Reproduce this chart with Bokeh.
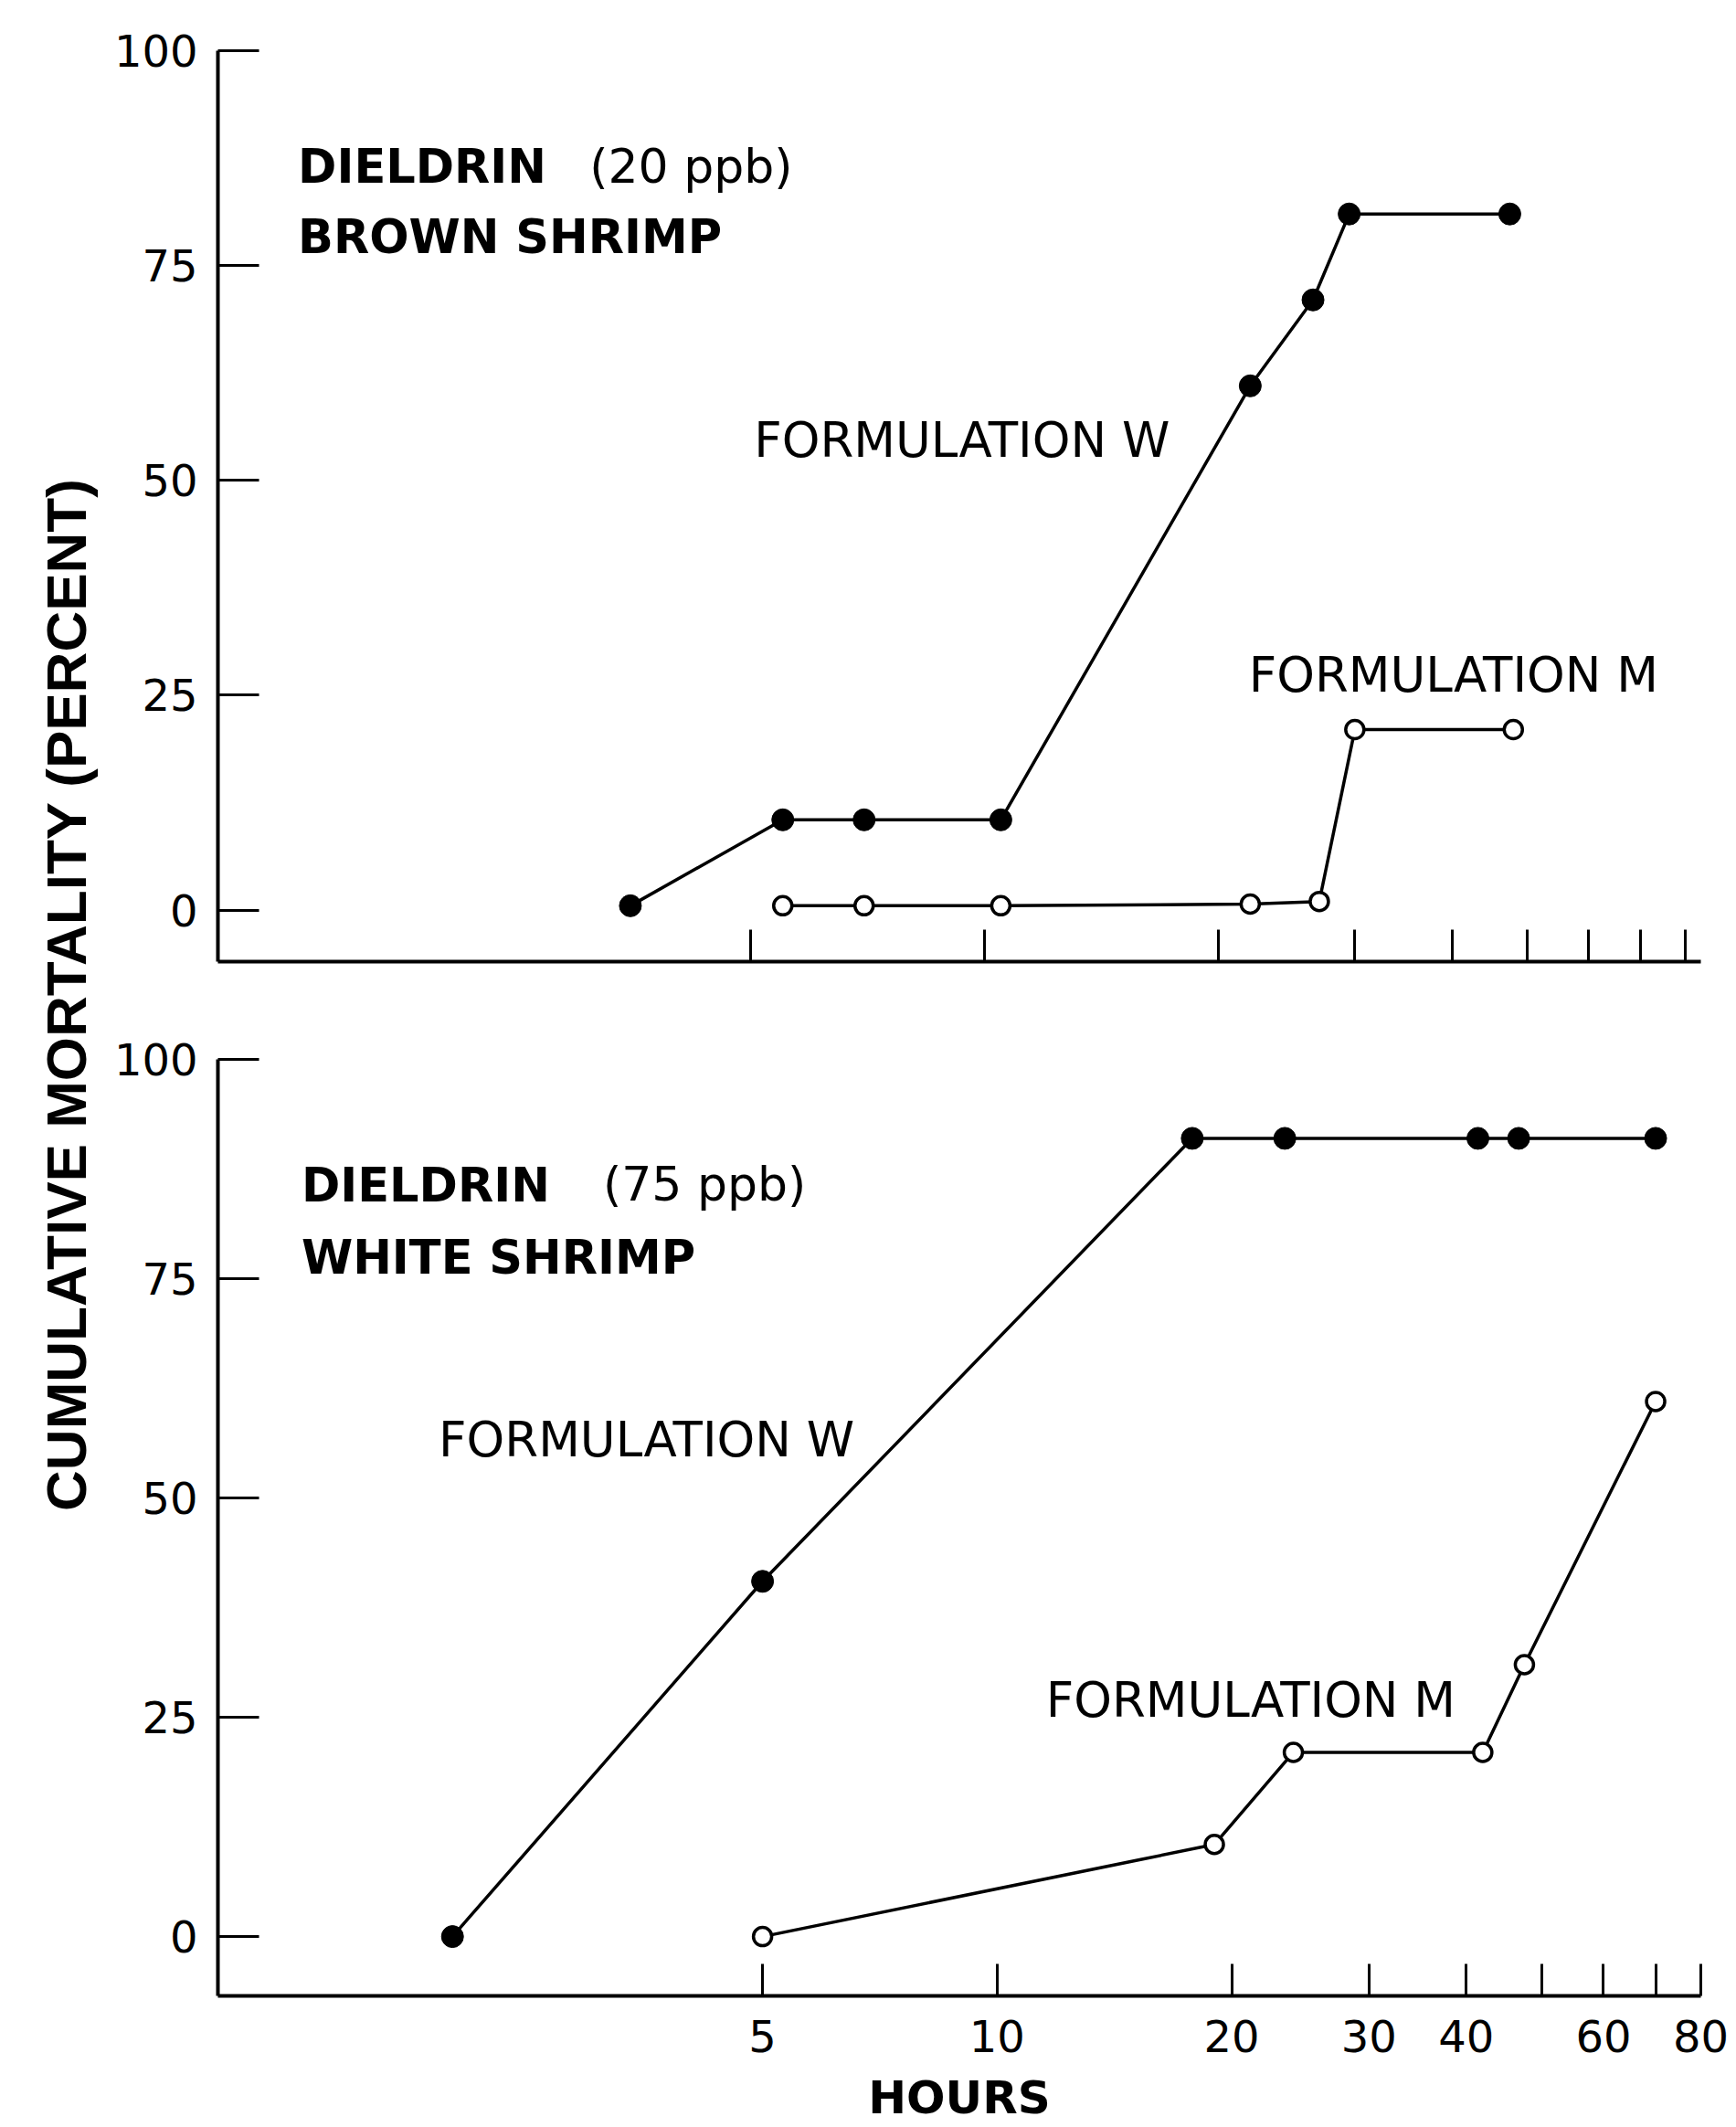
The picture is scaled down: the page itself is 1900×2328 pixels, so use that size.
import math
from bokeh.plotting import figure
from bokeh.models import Range1d, FixedTicker
from bokeh.layouts import row, column
from bokeh.embed import file_html
from bokeh.resources import INLINE
from bokeh.core.properties import value

# ---------------- data ----------------
# Upper panel: Dieldrin 20 ppb, brown shrimp
top_w_hours = [3.5, 5.5, 7.0, 10.5, 22.0, 26.5, 29.5, 47.5]
top_w_pct = [0.5, 10.5, 10.5, 10.5, 61.0, 71.0, 81.0, 81.0]
top_m_hours = [5.5, 7.0, 10.5, 22.0, 27.0, 30.0, 48.0]
top_m_pct = [0.5, 0.5, 0.5, 0.7, 1.0, 21.0, 21.0]

# Lower panel: Dieldrin 75 ppb, white shrimp
bot_w_hours = [2.0, 5.0, 17.8, 23.4, 41.4, 46.7, 70.0]
bot_w_pct = [0.0, 40.5, 91.0, 91.0, 91.0, 91.0, 91.0]
bot_m_hours = [5.0, 19.0, 24.0, 42.0, 47.5, 70.0]
bot_m_pct = [0.0, 10.5, 21.0, 21.0, 31.0, 61.0]

x_ticks = [5, 10, 20, 30, 40, 50, 60, 70, 80]
x_tick_labels = ["5", "10", "20", "30", "40", "", "60", "", "80"]
y_ticks = [0, 25, 50, 75, 100]
y_tick_labels = ["0", "25", "50", "75", "100"]

FONT = "DejaVu Sans"


def make_panel(width, height, x_start, x_end, y_start, bl, br, bt, bb, show_x_labels):
    p = figure(width=width, height=height, x_axis_type="log",
               x_range=Range1d(x_start, x_end), y_range=Range1d(y_start, 100),
               output_backend="svg", toolbar_location=None,
               min_border_left=bl, min_border_right=br,
               min_border_top=bt, min_border_bottom=bb,
               background_fill_color="white", border_fill_color="white")
    p.grid.visible = False
    p.outline_line_color = None

    xa = p.xaxis[0]
    xa.ticker = FixedTicker(ticks=x_ticks)
    xa.major_tick_in = 35
    xa.major_tick_out = 0
    xa.minor_tick_in = 0
    xa.minor_tick_out = 0
    xa.axis_line_width = 4
    xa.axis_line_color = "black"
    xa.major_tick_line_width = 3
    xa.major_tick_line_color = "black"
    if show_x_labels:
        xa.major_label_overrides = {t: l for t, l in zip(x_ticks, x_tick_labels)}
        xa.major_label_text_font = FONT
        xa.major_label_text_font_size = "48px"
        xa.major_label_text_color = "black"
        xa.major_label_standoff = 26
        xa.axis_label = "HOURS"
        xa.axis_label_text_font = FONT
        xa.axis_label_text_font_style = "bold"
        xa.axis_label_text_font_size = "50px"
        xa.axis_label_text_color = "black"
        xa.axis_label_standoff = 18
    else:
        xa.major_label_overrides = {t: "" for t in x_ticks}
        xa.major_label_text_font_size = "0px"

    ya = p.yaxis[0]
    ya.ticker = FixedTicker(ticks=y_ticks)
    ya.major_label_overrides = {t: l for t, l in zip(y_ticks, y_tick_labels)}
    ya.major_tick_in = 45
    ya.major_tick_out = 0
    ya.minor_tick_in = 0
    ya.minor_tick_out = 0
    ya.axis_line_width = 4
    ya.axis_line_color = "black"
    ya.major_tick_line_width = 3
    ya.major_tick_line_color = "black"
    ya.major_label_text_font = FONT
    ya.major_label_text_font_size = "48px"
    ya.major_label_text_color = "black"
    ya.major_label_standoff = 22
    return p


def draw_series(p, wx, wy, mx, my):
    p.line(wx, wy, line_color="black", line_width=3.5)
    p.scatter(wx, wy, marker="circle", size=24, fill_color="black",
              line_color="black", line_width=1)
    p.line(mx, my, line_color="black", line_width=3.5)
    p.scatter(mx, my, marker="circle", size=20, fill_color="white",
              line_color="black", line_width=3.5)


def add_text(p, x, y, txt, size, bold=False):
    p.text(x=[x], y=[y], text=[txt], text_font=value(FONT),
           text_font_size=value(size),
           text_font_style="bold" if bold else "normal",
           text_color="black", text_align="left", text_baseline="alphabetic")


# ---------------- upper panel ----------------
top = make_panel(width=1782, height=1097, x_start=1.03, x_end=83.7, y_start=-6.0,
                 bl=120, br=39, bt=55, bb=45, show_x_labels=False)
draw_series(top, top_w_hours, top_w_pct, top_m_hours, top_m_pct)
add_text(top, 1.306, 86.5, "DIELDRIN", "51px", bold=True)
add_text(top, 3.10, 86.5, "(20 ppb)", "52px")
add_text(top, 1.306, 78.3, "BROWN SHRIMP", "51px", bold=True)
add_text(top, 5.05, 54.7, "FORMULATION W", "53px")
add_text(top, 21.9, 27.4, "FORMULATION M", "53px")

# ---------------- lower panel ----------------
bot = make_panel(width=1782, height=1231, x_start=1.0, x_end=80.0, y_start=-6.76,
                 bl=120, br=39, bt=62, bb=144, show_x_labels=True)
draw_series(bot, bot_w_hours, bot_w_pct, bot_m_hours, bot_m_pct)
add_text(bot, 1.28, 85.6, "DIELDRIN", "51px", bold=True)
add_text(bot, 3.12, 85.8, "(75 ppb)", "52px")
add_text(bot, 1.28, 77.4, "WHITE SHRIMP", "51px", bold=True)
add_text(bot, 1.92, 56.7, "FORMULATION W", "53px")
add_text(bot, 11.55, 27.0, "FORMULATION M", "53px")

# ---------------- shared y-axis title ----------------
lab = figure(width=118, height=2328, x_range=Range1d(0, 118), y_range=Range1d(0, 2328),
             output_backend="svg", toolbar_location=None,
             x_axis_location=None, y_axis_location=None,
             min_border_left=0, min_border_right=0, min_border_top=0, min_border_bottom=0)
lab.grid.visible = False
lab.outline_line_color = None
lab.text(x=[72], y=[1240], text=["CUMULATIVE MORTALITY (PERCENT)"], angle=math.pi / 2,
         text_font=value("Liberation Sans"), text_font_style="bold",
         text_font_size=value("62px"), text_color="black",
         text_align="center", text_baseline="middle")

layout = row(lab, column(top, bot))

open("out.html", "w").write(file_html(layout, INLINE))
